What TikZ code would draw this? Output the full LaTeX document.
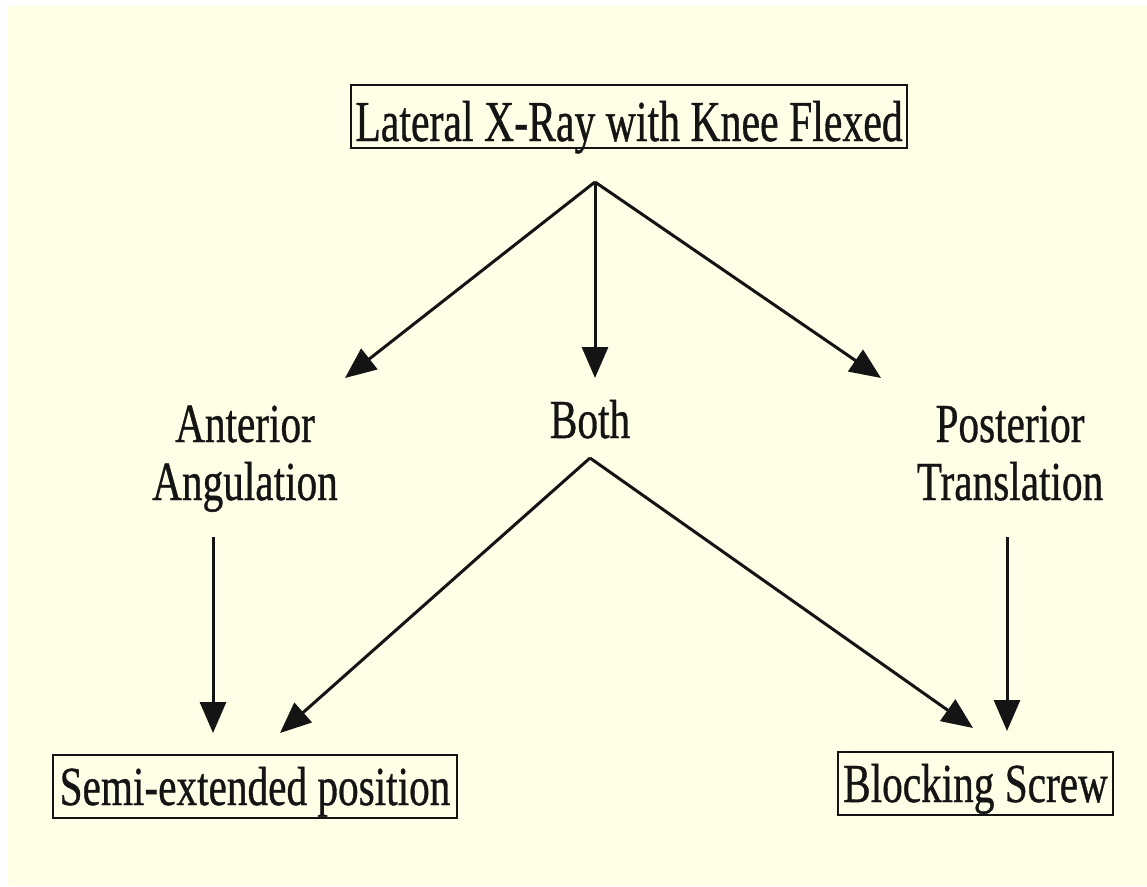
\documentclass[tikz,border=0pt]{standalone}
\usepackage{fontspec}
\setmainfont{Liberation Serif}
\newfontfamily\scanfont[FakeBold=0.8]{Liberation Serif}
\usetikzlibrary{arrows.meta}
\definecolor{cream}{RGB}{255,254,230}
\definecolor{ink}{RGB}{20,20,20}
\newcommand{\cnd}[1]{\scalebox{0.75}[1]{#1}}
\begin{document}
\begin{tikzpicture}[x=1pt,y=-1pt,
  lbl/.style={font=\scanfont\fontsize{55}{58}\selectfont, text=ink, inner sep=0pt, align=center},
  boxnode/.style={lbl, draw=ink, line width=2.6pt, inner xsep=0pt, inner ysep=0pt,
     text height=50pt, text depth=13pt, anchor=base},
  arr/.style={draw=ink, line width=3pt, -{Triangle[length=31pt,width=26pt]}}]
\useasboundingbox (0,0) rectangle (1147,886);
\fill[white] (0,0) rectangle (1147,886);
\fill[cream] (8,6) rectangle (1147,886);

\node[boxnode, minimum width=556pt, text height=56pt, text depth=7pt,
      font=\scanfont\fontsize{58}{60}\selectfont] (top) at (629,141)
      {\scalebox{0.72}[1]{Lateral X-Ray with Knee Flexed}};

\node[lbl, anchor=base] (ant) at (245,500) {\cnd{Anterior}\\\cnd{Angulation}};
\node[lbl, anchor=base] (both) at (590,438) {\cnd{Both}};
\node[lbl, anchor=base] (post) at (1010,500) {\cnd{Posterior}\\\cnd{Translation}};

\node[boxnode, minimum width=404pt] (semi) at (255,805) {\cnd{Semi-extended position}};
\node[boxnode, minimum width=275pt] (block) at (975.5,802) {\cnd{Blocking Screw}};

\coordinate (apex) at (595,182);
\coordinate (tl) at (345,378);
\coordinate (tm) at (595,378);
\coordinate (tr) at (881,378);
\coordinate (antout) at (213,537);
\coordinate (semiinL) at (213,733);
\coordinate (bothapex) at (590,458);
\coordinate (semiinR) at (280,733);
\coordinate (blockinL) at (973,728);
\coordinate (postout) at (1007,537);
\coordinate (blockinR) at (1007,731);

\draw[arr] (apex) -- (tl);
\draw[arr] (apex) -- (tm);
\draw[arr] (apex) -- (tr);
\draw[arr] (antout) -- (semiinL);
\draw[arr] (bothapex) -- (semiinR);
\draw[arr] (bothapex) -- (blockinL);
\draw[arr] (postout) -- (blockinR);
\end{tikzpicture}
\end{document}
